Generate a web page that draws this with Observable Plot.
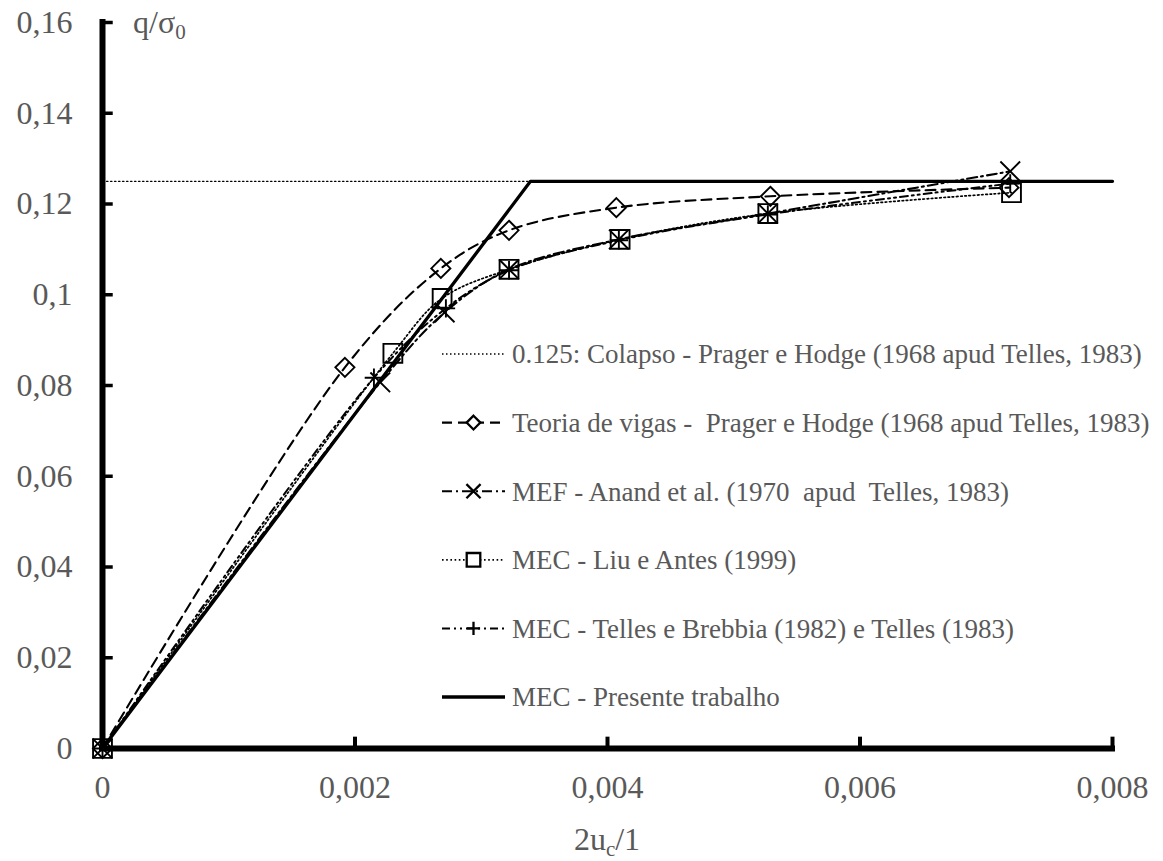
<!DOCTYPE html>
<html>
<head>
<meta charset="utf-8">
<script src="https://cdn.jsdelivr.net/npm/d3@7"></script>
<script src="https://cdn.jsdelivr.net/npm/@observablehq/plot@0.6"></script>
<style>
  body { margin: 0; background: #fff; }
  #chart svg { display: block; }
</style>
</head>
<body>
<div id="chart"></div>
<script>
// ---- data ----
const xTicks = [0, 0.002, 0.004, 0.006, 0.008];
const yTicks = [0, 0.02, 0.04, 0.06, 0.08, 0.1, 0.12, 0.14, 0.16];

const colapsoX = [0, 0.00339];
const colapsoY = [0.125, 0.125];

const vigasX = [0, 0.00192, 0.00268, 0.00322, 0.00407, 0.00529, 0.00718];
const vigasY = [0, 0.0840, 0.1058, 0.1142, 0.1192, 0.1217, 0.1236];

const mefX = [0, 0.00220, 0.00271, 0.00322, 0.00409, 0.00527, 0.00719];
const mefY = [0, 0.0807, 0.0961, 0.1056, 0.1122, 0.1179, 0.1272];

const liuX = [0, 0.00230, 0.00269, 0.00322, 0.00410, 0.00527, 0.00720];
const liuY = [0, 0.0871, 0.0992, 0.1056, 0.1122, 0.1179, 0.1225];

const tellesX = [0, 0.00215, 0.00272, 0.00322, 0.00409, 0.00527, 0.00719];
const tellesY = [0, 0.0817, 0.0970, 0.1054, 0.1120, 0.1177, 0.1245];

const presenteX = [0, 0.00339, 0.008];
const presenteY = [0, 0.125, 0.125];

const legendLabels = [
  "0.125: Colapso - Prager e Hodge (1968 apud Telles, 1983)",
  "Teoria de vigas -  Prager e Hodge (1968 apud Telles, 1983)",
  "MEF - Anand et al. (1970  apud  Telles, 1983)",
  "MEC - Liu e Antes (1999)",
  "MEC - Telles e Brebbia (1982) e Telles (1983)",
  "MEC - Presente trabalho"
];

// ---- build tables ----
const zip = (xs, ys) => xs.map((x, i) => ({x, y: ys[i]}));
const colapso = zip(colapsoX, colapsoY);
const vigas = zip(vigasX, vigasY);
const mef = zip(mefX, mefY);
const liu = zip(liuX, liuY);
const telles = zip(tellesX, tellesY);
const presente = zip(presenteX, presenteY);

const FONT = "'Liberation Serif', 'Times New Roman', serif";
const GRAY = "#595959";
const fmt = d => String(d).replace(".", ",");

// styles per series
const S = {
  colapso: {dash: "1.5,2.5", width: 1.3},
  vigas: {dash: "10,6", width: 2.1, symbol: "diamond2", r: 8.6},
  mef: {dash: "10,4,2,4", width: 2.1, symbol: "times", r: 9},
  liu: {dash: "1.6,2.6", width: 1.7, symbol: "square2", r: 12},
  telles: {dash: "8,4,2,4,2,4", width: 2, symbol: "plus", r: 6},
  presente: {dash: null, width: 3.3}
};

const line = (data, s, curve = "catmull-rom") => Plot.line(data, {
  x: "x", y: "y", curve, stroke: "black", strokeWidth: s.width,
  strokeDasharray: s.dash
});
const dots = (data, s) => Plot.dot(data, {
  x: "x", y: "y", symbol: () => s.symbol, r: s.r, stroke: "black",
  strokeWidth: 1.9, fill: "none"
});

const svg = Plot.plot({
  width: 1163,
  height: 861,
  marginLeft: 102,
  marginRight: 51,
  marginTop: 22,
  marginBottom: 113,
  style: {fontFamily: FONT, background: "#fff", overflow: "visible"},
  x: {domain: [0, 0.008]},
  y: {domain: [0, 0.16]},
  symbol: {type: "identity"},
  marks: [
    Plot.axisX(xTicks, {tickSize: 0, tickPadding: 27, tickFormat: fmt, fontSize: 32, color: GRAY, label: null}),
    Plot.axisY(yTicks, {tickSize: 0, tickPadding: 30, tickFormat: fmt, fontSize: 32, color: GRAY, label: null}),
    line(colapso, S.colapso, "linear"),
    line(vigas, S.vigas),
    line(mef, S.mef),
    line(liu, S.liu),
    line(telles, S.telles),
    dots(vigas, S.vigas),
    dots(mef, S.mef),
    dots(liu, S.liu),
    dots(telles, S.telles),
    line(presente, S.presente, "linear"),
    // axis lines and inward ticks
    Plot.ruleY(yTicks.slice(1), {y: d => d, x1: 0, x2: 0.000085, stroke: "black", strokeWidth: 3.5}),
    Plot.ruleX(xTicks.slice(1), {x: d => d, y1: 0, y2: 0.0025, stroke: "black", strokeWidth: 4}),
    Plot.ruleX([0], {x: d => d, y1: 0, y2: 0.16, stroke: "black", strokeWidth: 6, strokeLinecap: "square"}),
    Plot.ruleY([0], {y: d => d, x1: 0, x2: 0.008, stroke: "black", strokeWidth: 6, strokeLinecap: "square"})
  ]
});

const root = d3.select(svg);

// axis titles with subscripts
const yl = root.append("text").attr("x", 133).attr("y", 33).attr("text-anchor", "start")
  .attr("font-family", FONT).attr("font-size", 32).attr("fill", GRAY);
yl.append("tspan").text("q/σ");
yl.append("tspan").attr("font-size", 21).attr("dy", 6).text("0");

const xl = root.append("text").attr("x", 607).attr("y", 850).attr("text-anchor", "middle")
  .attr("font-family", FONT).attr("font-size", 32).attr("fill", GRAY);
xl.append("tspan").text("2u");
xl.append("tspan").attr("font-size", 21).attr("dy", 6).text("c");
xl.append("tspan").attr("dy", -6).text("/1");

// legend
const legendStyles = [S.colapso, S.vigas, S.mef, S.liu, S.telles, S.presente];
const legendSymbols = {diamond2: d3.symbolDiamond2, times: d3.symbolTimes, square2: d3.symbolSquare2, plus: d3.symbolPlus};
const lg = root.append("g").attr("text-anchor", "start");
const x0 = 442, x1 = 505, tx = 512, ly0 = 354, dy = 68.6;
legendLabels.forEach((lab, i) => {
  const s = legendStyles[i];
  const y = ly0 + i * dy;
  lg.append("line").attr("x1", x0).attr("x2", x1).attr("y1", y).attr("y2", y)
    .attr("stroke", "black").attr("stroke-width", s.width)
    .attr("stroke-dasharray", s.dash);
  if (s.symbol) {
    const r = s.r * 0.72;
    lg.append("path")
      .attr("d", d3.symbol(legendSymbols[s.symbol], Math.PI * r * r)())
      .attr("transform", `translate(${(x0 + x1) / 2},${y})`)
      .attr("fill", "white").attr("stroke", "black").attr("stroke-width", 2.3);
  }
  lg.append("text").attr("x", tx).attr("y", y).attr("dy", "0.35em")
    .attr("text-anchor", "start")
    .attr("font-family", FONT).attr("font-size", 27).attr("fill", GRAY)
    .style("white-space", "pre").text(lab);
});

document.getElementById("chart").appendChild(svg);
</script>
</body>
</html>
